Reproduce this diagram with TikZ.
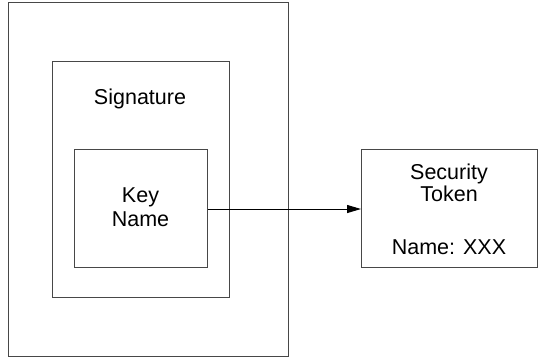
\documentclass[tikz,border=0pt]{standalone}
\usepackage{fontspec}
\setmainfont{Liberation Sans}
\usetikzlibrary{arrows.meta}
\begin{document}
\begin{tikzpicture}[x=1pt,y=1pt,
  box/.style={draw=black!72, line width=1.1pt, fill=none, inner sep=0pt, anchor=north west},
  txt/.style={inner sep=0pt, anchor=base, font=\fontsize{21.5}{23}\selectfont},
  conn/.style={line width=1pt, -{Triangle[length=14pt,width=8pt]}}]
\useasboundingbox (0,0) rectangle (540,-360);
\fill[white] (0,0) rectangle (540,-360);
\node[box, minimum width=280pt, minimum height=354pt] (outer) at (8,-2) {};
\node[box, minimum width=177pt, minimum height=236pt] (sig) at (52,-61) {};
\node[box, minimum width=133pt, minimum height=118pt] (key) at (74,-149) {};
\node[box, minimum width=176pt, minimum height=118pt] (tok) at (361,-149) {};
\node[txt] (sigt) at (140,-104) {Signature};
\node[txt] (key1) at (140.5,-202.7) {Key};
\node[txt] (key2) at (140.5,-226.7) {Name};
\node[txt] (tok1) at (449,-179.3) {Security};
\node[txt] (tok2) at (449,-201.7) {Token};
\node[txt] (tok3) at (449,-254) {Name: XXX};
\draw[conn] (key.east |- 0,-209) -- (tok.west |- 0,-209);
\end{tikzpicture}
\end{document}
